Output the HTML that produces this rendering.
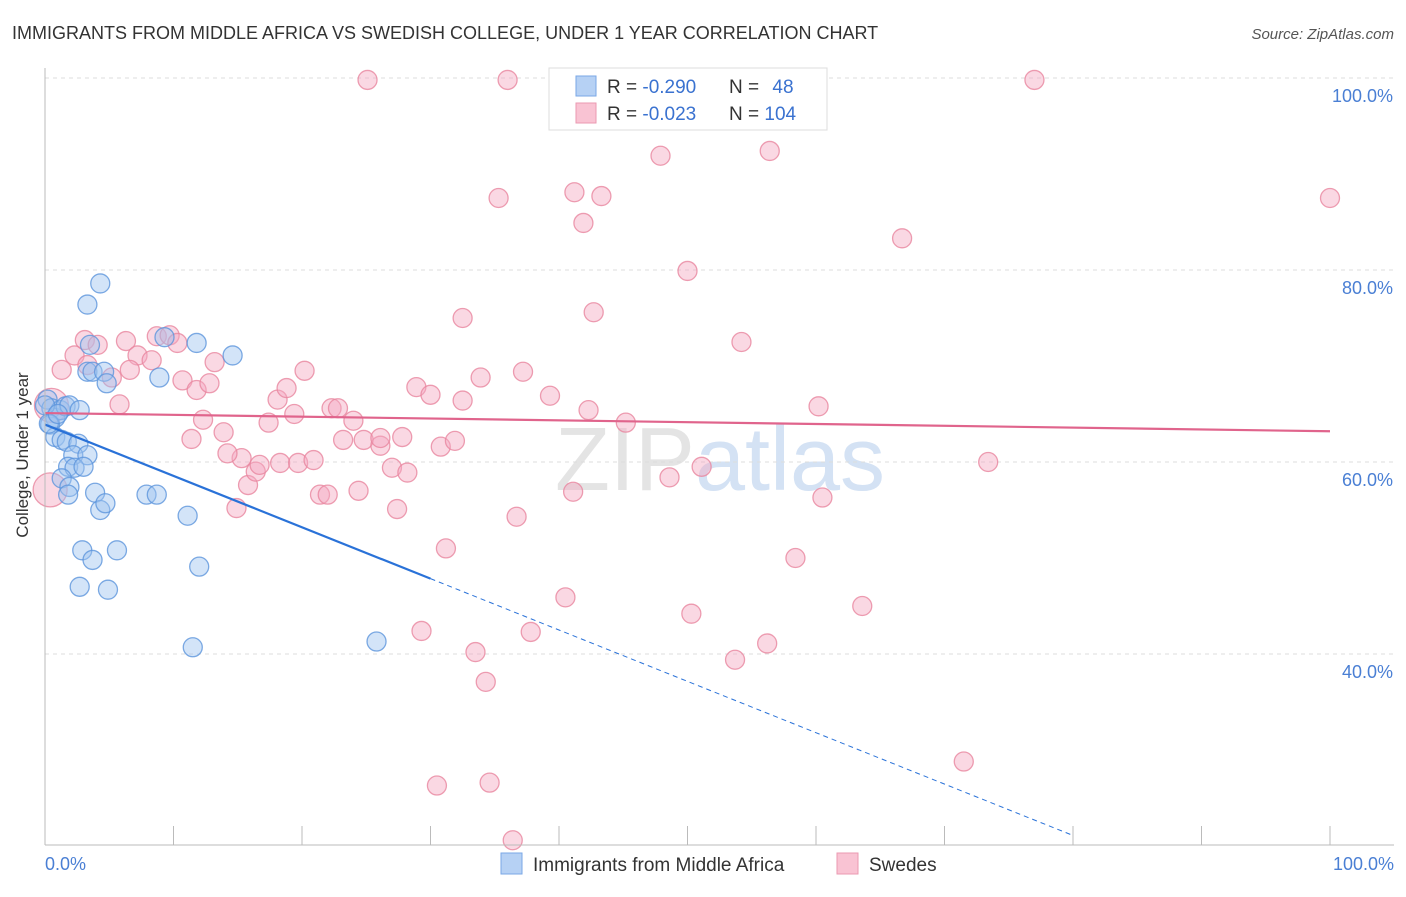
<!DOCTYPE html>
<html><head><meta charset="utf-8"><style>
body{margin:0;background:#fff;font-family:"Liberation Sans",sans-serif}
svg text{font-family:"Liberation Sans",sans-serif}
</style></head><body>
<svg id="chart" width="1406" height="892" viewBox="0 0 1406 892">
<text x="12" y="39" font-size="18" fill="#333">IMMIGRANTS FROM MIDDLE AFRICA VS SWEDISH COLLEGE, UNDER 1 YEAR CORRELATION CHART</text>
<text x="1394" y="39" font-size="15" fill="#555" text-anchor="end" font-style="italic">Source: ZipAtlas.com</text>
<text x="720" y="490" font-size="90" fill="#e4e4e4" text-anchor="middle" font-family="Liberation Serif">ZIP<tspan fill="#d4e2f4" font-family="Liberation Sans">atlas</tspan></text>
<g id="grid"></g><g id="pts"></g><g id="trend"></g>
<line x1="45" y1="68" x2="45" y2="845" stroke="#bbb"/>
<line x1="45" y1="845" x2="1394" y2="845" stroke="#bbb"/>
<g id="xt"></g>
<text x="28" y="455" font-size="17" fill="#333" text-anchor="middle" transform="rotate(-90 28 455)">College, Under 1 year</text>
<text x="45" y="870" font-size="18" fill="#4a7fd4">0.0%</text>
<text x="1394" y="870" font-size="18" fill="#4a7fd4" text-anchor="end">100.0%</text>
<g>
<rect x="549" y="68" width="278" height="62" fill="#fff" stroke="#ddd"/>
<rect x="576" y="76" width="20" height="20" fill="#b6d1f4" stroke="#7aa7e6"/>
<rect x="576" y="103" width="20" height="20" fill="#f9c3d3" stroke="#eb9ab2"/>
<text x="607" y="93" font-size="19" fill="#333">R = <tspan fill="#3a72d0">-0.290</tspan></text>
<text x="729" y="93" font-size="19" fill="#333">N = <tspan fill="#3a72d0" dx="8">48</tspan></text>
<text x="607" y="120" font-size="19" fill="#333">R = <tspan fill="#3a72d0">-0.023</tspan></text>
<text x="729" y="120" font-size="19" fill="#333">N = <tspan fill="#3a72d0">104</tspan></text>
</g>
<g><rect x="501" y="853" width="21" height="21" fill="#b6d1f4" stroke="#7aa7e6"/><text x="533" y="871" font-size="19" fill="#333">Immigrants from Middle Africa</text></g>
<g><rect x="837" y="853" width="21" height="21" fill="#f9c3d3" stroke="#eb9ab2"/><text x="869" y="871" font-size="19" fill="#333">Swedes</text></g>
</svg>
<script>
const yTicks=[100,80,60,40];
const yTickLabels=["100.0%","80.0%","60.0%","40.0%"];
const xTicks=[0,10,20,30,40,50,60,70,80,90,100];
const blueX=[4.3,3.3,0.2,0.5,0.8,1.2,1.6,1.9,0.4,0.8,1.3,1.7,2.6,3.3,3.5,3.7,4.6,4.8,8.9,9.3,11.8,14.6,2.2,3.3,1.8,2.3,3.0,1.3,1.9,1.8,3.9,4.3,4.7,7.9,8.7,11.1,2.9,5.6,3.7,2.7,4.9,12.0,11.5,25.8,0,2.7,0.3,1.0];
const blueY=[78.6,76.4,66.5,65.6,64.6,65.4,65.8,65.9,63.9,62.6,62.3,62.1,61.9,69.4,72.2,69.4,69.4,68.2,68.8,73.0,72.4,71.1,60.7,60.7,59.5,59.4,59.5,58.3,57.4,56.6,56.8,55.0,55.7,56.6,56.6,54.4,50.8,50.8,49.8,47.0,46.7,49.1,40.7,41.3,65.9,65.4,64.0,65.0];
const pinkX=[25.1,36.0,46.7,77.0,47.9,56.4,35.3,41.2,43.3,41.9,100,66.7,50.0,32.5,42.7,54.2,1.3,2.3,3.1,4.1,3.3,6.3,7.2,8.3,8.7,9.7,10.3,6.6,5.2,10.7,11.8,12.8,13.2,5.8,11.4,12.3,13.9,15.3,15.8,14.2,14.9,16.4,16.7,17.4,18.1,18.8,19.4,20.2,18.3,19.7,20.9,22.3,22.8,24.0,23.2,24.8,26.1,26.1,27.8,27.0,28.2,27.4,21.4,22.0,24.4,28.9,30.0,32.5,33.9,37.2,39.3,42.3,45.2,30.8,31.9,36.7,41.1,31.2,40.5,29.3,33.5,37.8,34.3,30.5,34.6,36.4,48.6,51.1,50.3,53.7,56.2,58.4,60.5,60.2,63.6,73.4,71.5,0.4,0.5];
const pinkY=[99.8,99.8,99.8,99.8,91.9,92.4,87.5,88.1,87.7,84.9,87.5,83.3,79.9,75.0,75.6,72.5,69.6,71.1,72.7,72.2,70.1,72.6,71.1,70.6,73.1,73.2,72.4,69.6,68.8,68.5,67.5,68.2,70.4,66.0,62.4,64.4,63.1,60.4,57.6,60.9,55.2,59.0,59.7,64.1,66.5,67.7,65.0,69.5,59.9,59.9,60.2,65.6,65.6,64.3,62.3,62.3,61.7,62.5,62.6,59.4,58.9,55.1,56.6,56.6,57.0,67.8,67.0,66.4,68.8,69.4,66.9,65.4,64.1,61.6,62.2,54.3,56.9,51.0,45.9,42.4,40.2,42.3,37.1,26.3,26.6,20.6,58.4,59.5,44.2,39.4,41.1,50.0,56.3,65.8,45.0,60.0,28.8,57.1,65.9];
const pinkTrend=[65.1,63.2];
const blueTrend=[63.9,-0.535];
const NS="http://www.w3.org/2000/svg";
const sx=v=>45+v*12.85, sy=v=>1038-v*9.6;
function mk(p,tag,at){const e=document.createElementNS(NS,tag);for(const k in at)e.setAttribute(k,at[k]);document.getElementById(p).appendChild(e);return e;}
yTicks.forEach((t,i)=>{
 const l=mk('grid','line',{x1:45,x2:1394,y1:sy(t),y2:sy(t),stroke:'#ddd','stroke-dasharray':'4 4'});
 
 
 const tx=mk('grid','text',{x:1393,y:sy(t)+24,'font-size':18,fill:'#4a7fd4','text-anchor':'end'});
 tx.textContent=yTickLabels[i];
 
 
});
xTicks.forEach(t=>{
 const l=mk('xt','line',{x1:sx(t),x2:sx(t),y1:826,y2:845,stroke:'#bbb'});
 
 
});
function pts(xs,ys,fill,stroke,name){xs.forEach((x,i)=>{
 const big=(i>=xs.length-2&&name==='swedes-point')?17:9.5;
 const c=mk('pts','circle',{cx:sx(x),cy:sy(ys[i]),r:big,fill:fill,'fill-opacity':0.45,stroke:stroke,'stroke-opacity':0.8,'stroke-width':1.3});
 
 
});}
pts(pinkX,pinkY,'#f4a9c0','#e8869f','swedes-point');
pts(blueX,blueY,'#9ec3f0','#5c95dc','middle-africa-point');
const pl=mk('trend','line',{x1:sx(0),y1:sy(pinkTrend[0]),x2:sx(100),y2:sy(pinkTrend[1]),stroke:'#e0648c','stroke-width':2.2});


const bl=mk('trend','line',{x1:sx(0),y1:sy(blueTrend[0]),x2:sx(30),y2:sy(blueTrend[0]+blueTrend[1]*30),stroke:'#2a72d8','stroke-width':2.2});


const bd=mk('trend','line',{x1:sx(30),y1:sy(blueTrend[0]+blueTrend[1]*30),x2:sx(80),y2:sy(blueTrend[0]+blueTrend[1]*80),stroke:'#2a72d8','stroke-width':1,'stroke-dasharray':'5 4'});


</script>
</body></html>
